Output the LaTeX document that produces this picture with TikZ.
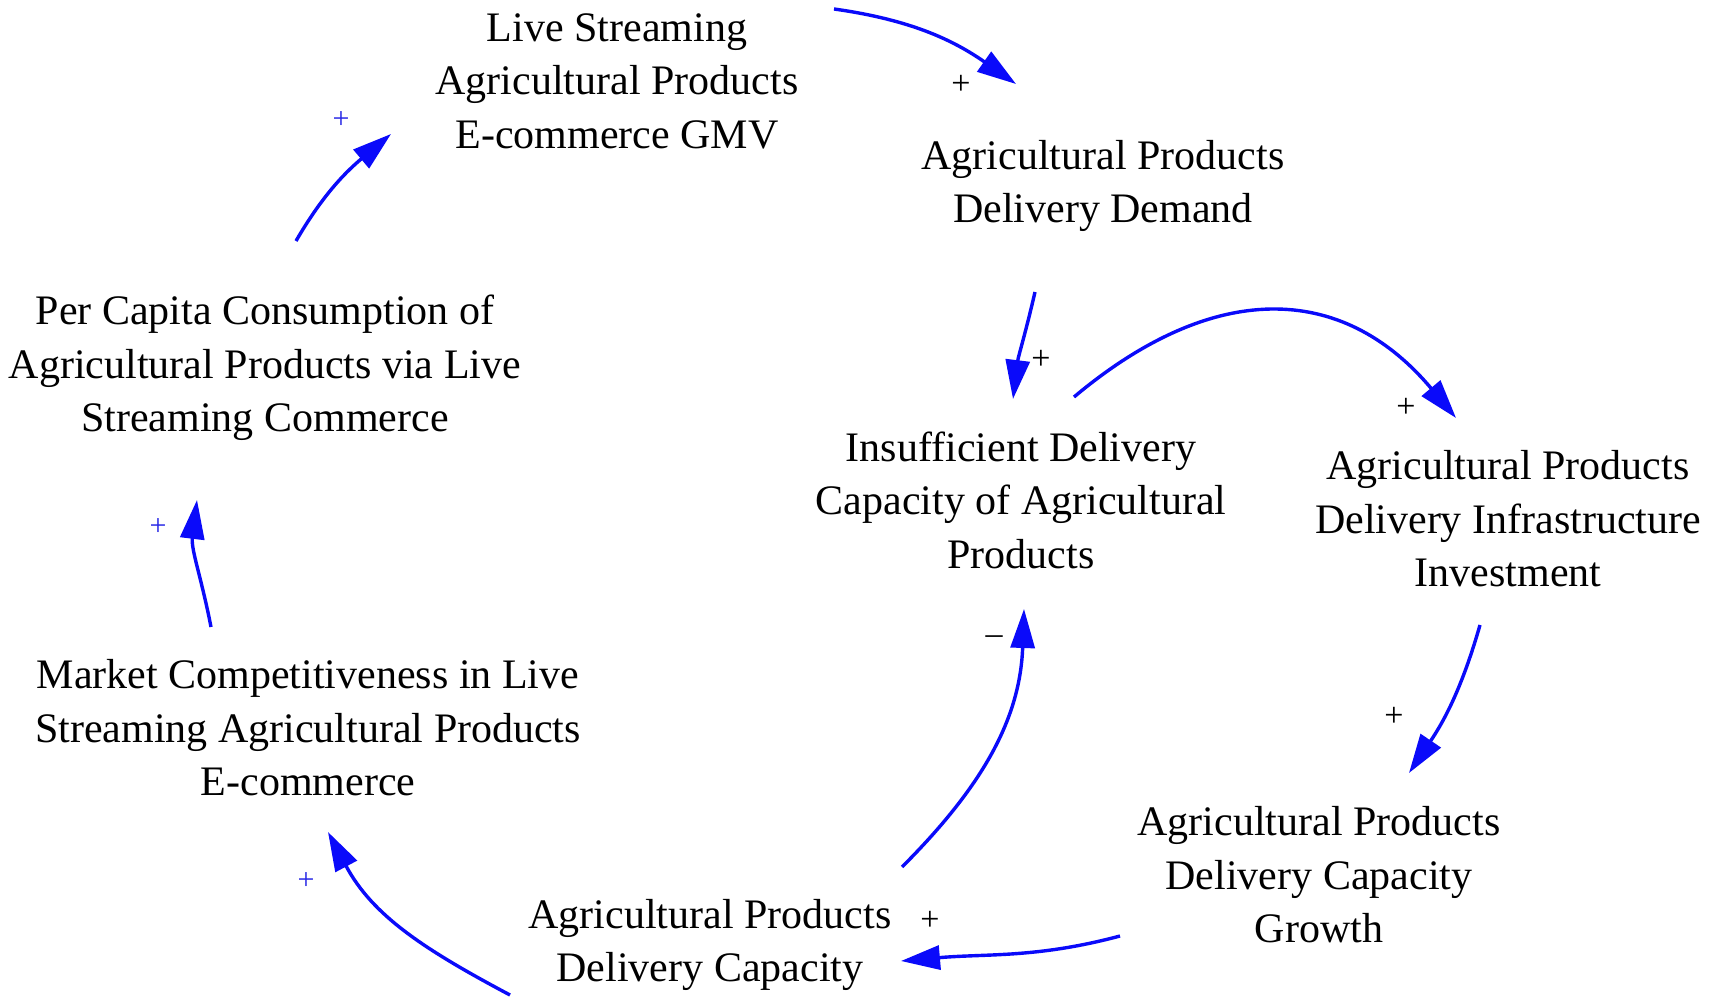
\documentclass[tikz,border=0pt]{standalone}
\usepackage{fontspec}
\setmainfont{Liberation Serif}
\usetikzlibrary{arrows.meta}
\begin{document}
\begin{tikzpicture}[x=1pt,y=1pt,
  var/.style={align=center, font=\fontsize{42}{53.5}\selectfont, inner sep=0pt},
  link/.style={draw={rgb,255:red,10;green,10;blue,250}, line width=3.4pt, -{Triangle[length=39pt,width=24pt]}},
  pol/.style={font=\fontsize{34}{34}\selectfont, inner sep=0pt},
  bpol/.style={font=\fontsize{30}{30}\selectfont, inner sep=0pt, text={rgb,255:red,40;green,40;blue,230}}]
\useasboundingbox[fill=white] (0,0) rectangle (1713,1007);

\node[var] (gmv) at (617,926) {Live Streaming\\Agricultural Products\\E-commerce GMV};
\node[var] (dem) at (1103,821) {Agricultural Products\\Delivery Demand};
\node[var] (ins) at (1021,507) {Insufficient Delivery\\Capacity of Agricultural\\Products};
\node[var] (inv) at (1508,488) {Agricultural Products\\Delivery Infrastructure\\Investment};
\node[var] (gro) at (1319,132) {Agricultural Products\\Delivery Capacity\\Growth};
\node[var] (cap) at (710,62) {Agricultural Products\\Delivery Capacity};
\node[var] (mkt) at (308,279) {Market Competitiveness in Live\\Streaming Agricultural Products\\E-commerce};
\node[var] (pcc) at (265,639) {Per Capita Consumption of\\Agricultural Products via Live\\Streaming Commerce};

\draw[link] ([shift={(217,72)}]gmv.center) to[out=-8,in=145] ([shift={(-87,102)}]dem.center);
\draw[link] ([shift={(-68,-106)}]dem.center) to[out=-103,in=83] ([shift={(-8,101)}]ins.center);
\draw[link] ([shift={(53,103)}]ins.center) to[out=40,in=130,looseness=1.2] ([shift={(-52,101)}]inv.center);
\draw[link] ([shift={(-28,-106)}]inv.center) to[out=-106,in=56] ([shift={(90,102)}]gro.center);
\draw[link] ([shift={(-199,-61)}]gro.center) to[out=195,in=5] ([shift={(191,-16)}]cap.center);
\draw[link] ([shift={(192,78)}]cap.center) to[out=45,in=268] ([shift={(3,-109)}]ins.center);
\draw[link] ([shift={(-200,-50)}]cap.center) to[out=152,in=-62] ([shift={(20,-104)}]mkt.center);
\draw[link] ([shift={(-97,101)}]mkt.center) to[out=101,in=263] ([shift={(-68,-132)}]pcc.center);
\draw[link] ([shift={(31,127)}]pcc.center) to[out=60,in=220] ([shift={(-226,-53)}]gmv.center);

\node[pol] (s1) at (961,922) {+};
\node[pol] (s2) at (1041,647) {+};
\node[pol] (s3) at (1406,599) {+};
\node[pol] (s4) at (1394,290) {+};
\node[pol] (s5) at (930,86) {+};
\node[pol] (s6) at (994,367) {\textendash};
\node[bpol] (s7) at (306,126) {+};
\node[bpol] (s8) at (158,480) {+};
\node[bpol] (s9) at (341,887) {+};
\end{tikzpicture}
\end{document}
